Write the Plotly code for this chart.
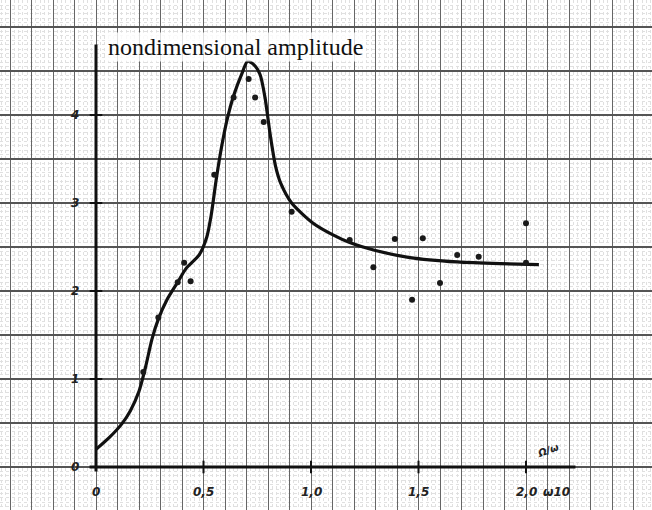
import plotly.graph_objects as go

# ---- data ----
curve_x = [0.0, 0.06, 0.12, 0.16, 0.20, 0.23, 0.26, 0.29, 0.33, 0.38, 0.42, 0.48, 0.515,
           0.535, 0.56, 0.585, 0.61, 0.64, 0.68, 0.705, 0.735, 0.763, 0.786, 0.81, 0.835,
           0.86, 0.91, 1.01, 1.10, 1.18, 1.30, 1.46, 1.68, 1.88, 2.06]
curve_y = [0.20, 0.33, 0.49, 0.64, 0.86, 1.13, 1.45, 1.68, 1.90, 2.10, 2.26, 2.41, 2.61,
           2.85, 3.28, 3.65, 3.95, 4.22, 4.48, 4.61, 4.57, 4.46, 4.20, 3.78, 3.42,
           3.22, 3.00, 2.77, 2.64, 2.55, 2.46, 2.38, 2.33, 2.31, 2.30]

pts_x = [0.22, 0.29, 0.38, 0.41, 0.44, 0.55, 0.64, 0.71, 0.74, 0.78, 0.91, 1.18, 1.29,
         1.39, 1.47, 1.52, 1.60, 1.68, 1.78, 2.00, 2.00]
pts_y = [1.08, 1.70, 2.10, 2.32, 2.11, 3.32, 4.20, 4.41, 4.20, 3.92, 2.90, 2.58, 2.27,
         2.59, 1.90, 2.60, 2.09, 2.41, 2.39, 2.77, 2.32]

x_ticks = [0, 0.5, 1.0, 1.5, 2.0]
x_tick_labels = ["0", "0,5", "1,0", "1,5", "2,0"]
y_ticks = [0, 1, 2, 3, 4]
y_tick_labels = ["0", "1", "2", "3", "4"]

title_text = "nondimensional amplitude"
x_unit_text = "ω10"
x_name_text = "Ω/ω"

# ---- figure ----
XR = [-96 / 215, (652 - 96) / 215]
YR = [-(510 - 467) / 88, 467 / 88]

fig = go.Figure()

# axis tick marks
fig.add_trace(go.Scatter(x=x_ticks[1:], y=[0] * (len(x_ticks) - 1), mode="markers",
                         marker=dict(symbol="line-ns", size=9, line=dict(width=2, color="#111")),
                         hoverinfo="skip", showlegend=False))
fig.add_trace(go.Scatter(x=[0] * (len(y_ticks) - 1), y=y_ticks[1:], mode="markers",
                         marker=dict(symbol="line-ew", size=9, line=dict(width=2, color="#111")),
                         hoverinfo="skip", showlegend=False))

fig.add_trace(go.Scatter(x=curve_x, y=curve_y, mode="lines",
                         line=dict(color="#111111", width=3.2, shape="spline", smoothing=0.7),
                         showlegend=False))
fig.add_trace(go.Scatter(x=pts_x, y=pts_y, mode="markers",
                         marker=dict(color="#1a1a1a", size=6, symbol="circle"),
                         showlegend=False))

# axis lines
fig.add_shape(type="line", x0=0, x1=0, y0=-0.05, y1=4.8, line=dict(color="#111", width=3))
fig.add_shape(type="line", x0=-0.03, x1=2.23, y0=0, y1=0, line=dict(color="#111", width=3))

tick_font = dict(family="DejaVu Sans", size=12, color="#222")
for xv, lab in zip(x_ticks, x_tick_labels):
    fig.add_annotation(x=xv, y=-0.28, text=f"<i><b>{lab}</b></i>", showarrow=False,
                       font=tick_font, xanchor="center", yanchor="middle")
for yv, lab in zip(y_ticks, y_tick_labels):
    fig.add_annotation(x=-0.1, y=yv, text=f"<i><b>{lab}</b></i>", showarrow=False,
                       font=tick_font, xanchor="center", yanchor="middle")

fig.add_annotation(x=2.14, y=-0.28, text=f"<i><b>{x_unit_text}</b></i>", showarrow=False,
                   font=tick_font, xanchor="center", yanchor="middle")
fig.add_annotation(x=2.10, y=0.19, text=f"<i><b>{x_name_text}</b></i>", showarrow=False,
                   font=dict(family="DejaVu Sans", size=10, color="#222"),
                   xanchor="center", yanchor="middle", textangle=-20)

fig.add_annotation(x=0.047, y=4.77, text=title_text, showarrow=False,
                   font=dict(family="Liberation Serif, DejaVu Serif, serif", size=24, color="#111"),
                   xanchor="left", yanchor="middle", bgcolor="rgba(255,255,255,0.8)")

fig.update_xaxes(range=XR, showticklabels=False, ticks="", zeroline=False,
                 showgrid=True, dtick=0.1, tick0=0, gridcolor="#666", gridwidth=1.3,
                 minor=dict(dtick=0.02, showgrid=True, gridcolor="#e0e0e0", gridwidth=1, griddash="dot"),
                 showline=False, fixedrange=True)
fig.update_yaxes(range=YR, showticklabels=False, ticks="", zeroline=False,
                 showgrid=True, dtick=0.5, tick0=0, gridcolor="#555", gridwidth=1.5,
                 minor=dict(dtick=0.05, showgrid=True, gridcolor="#e0e0e0", gridwidth=1, griddash="dot"),
                 showline=False, fixedrange=True)

fig.update_layout(width=652, height=510, margin=dict(l=0, r=0, t=0, b=0),
                  paper_bgcolor="white", plot_bgcolor="white", showlegend=False)

fig.write_html("out.html")
